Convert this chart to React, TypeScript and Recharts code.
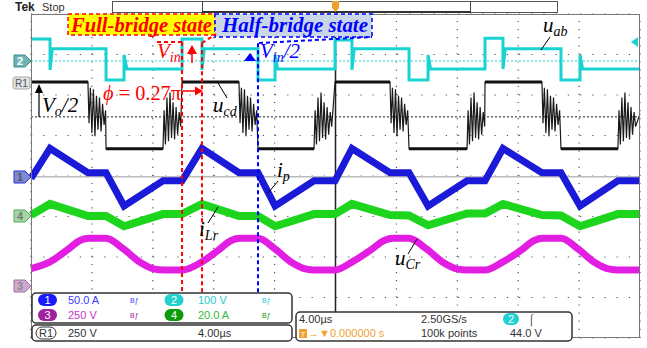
import { Line, LineChart, ReferenceLine, XAxis, YAxis } from "recharts";

type Pt = [number, number];
type Channel = { scale: number; offset: number };

const W = 647;
const H = 348;
const fontSans = "'Liberation Sans', Arial, sans-serif";
const fontSerif = "'Liberation Serif', 'Times New Roman', serif";

// horizontal: 4 us/div, 10 divs; vertical: 8 divs, 0 = screen centre
const timeTicks = [0, 4, 8, 12, 16, 20, 24, 28, 32, 36, 40];
const divTicks = [-4, -3, -2, -1, 0, 1, 2, 3, 4];

// channel scale (units/div) and ground marker position (div)
const ch1: Channel = { scale: 50, offset: -0.02 }; // i_p [A]
const ch2: Channel = { scale: 100, offset: 2.84 }; // u_ab [V]
const ch3: Channel = { scale: 250, offset: -2.72 }; // u_Cr [V]
const ch4: Channel = { scale: 20, offset: -0.99 }; // i_Lr [A]
const ref1: Channel = { scale: 250, offset: 1.46 }; // u_cd [V]

// [time us, value]
const ipTrace: Pt[] = [
  [0, -2], [1.25, 35], [3.74, 5], [4.93, 5], [6.11, -36], [8.67, -5], [9.92, -5],
  [11.23, 35], [13.66, 5], [14.91, 5], [16.03, -36], [18.59, -5], [19.97, -5],
  [21.08, 35], [23.58, 5], [24.83, 5], [26.08, -36], [28.64, -5], [29.82, -5],
  [31.0, 35], [33.56, 5], [34.81, 5], [36.06, -36], [38.55, -5], [40, -5],
];

const iLrTrace: Pt[] = [
  [0, 0.5], [1.25, 6], [3.74, 0], [4.93, 0], [6.11, -5], [8.67, 1], [9.92, 1],
  [11.23, 6], [13.66, 0], [14.91, 0], [16.03, -5], [18.59, 1], [19.97, 1],
  [21.08, 6], [23.58, 0.5], [24.83, 0.3], [26.08, -4.5], [28.64, 1.3], [29.82, 1.3],
  [31.0, 6], [33.56, 0.5], [34.81, 0.3], [36.06, -5], [38.55, 1], [40, 1],
];

const uCrTrace: Pt[] = [
  [0, 108], [1.25, 150], [2.36, 222], [3.22, 282], [3.81, 295], [4.93, 295], [6.04, 232], [7.16, 148], [8.14, 105], [8.67, 100],
  [9.92, 100], [11.23, 150], [12.3, 222], [13.15, 282], [13.73, 295], [14.91, 295], [16.0, 232], [17.1, 148], [18.1, 105], [18.6, 100],
  [19.97, 100], [21.1, 150], [22.3, 222], [23.2, 282], [23.8, 295], [24.83, 295], [25.95, 232], [27.05, 148], [28.05, 105], [28.6, 100],
  [29.82, 100], [31.0, 150], [32.2, 222], [33.05, 282], [33.65, 295], [34.81, 295], [35.9, 232], [37.0, 148], [38.0, 105], [38.55, 100], [40, 100],
];

const uabTrace: Pt[] = [
  [0, 54], [1.25, 54], [1.25, -22], [1.4, 30], [4.93, 30], [4.93, -47], [6.11, -47], [6.11, 15], [6.3, -20], [9.92, -20],
  [9.92, 54], [11.23, 54], [11.23, -22], [11.38, 30], [14.91, 30], [14.91, -47], [16.03, -47], [16.03, 15], [16.2, -20], [19.97, -20],
  [19.97, 52], [21.08, 52], [21.08, -22], [21.23, 30], [24.83, 30], [24.83, -47], [26.08, -47], [26.08, 15], [26.25, -20], [29.82, -20],
  [29.82, 56], [31.0, 56], [31.0, -20], [31.15, 30], [34.81, 30], [34.81, -47], [36.06, -47], [36.06, 15], [36.23, -20], [40, -20],
];

// u_cd: +/-Vo/2 levels with ringing after each edge
const ucdHigh = 216;
const ucdLow = -197;
const highStarts = [0, 9.92, 19.97, 29.82];
const fallStarts = [3.74, 13.66, 23.58, 33.56];
const lowStarts = [4.93, 14.91, 24.83, 34.81];
const riseStarts = [8.67, 18.59, 28.64, 38.55];
const ringFall: Pt[] = [
  [0, 216], [0.07, -40], [0.16, 180], [0.26, -100], [0.36, 170], [0.46, -120], [0.56, 130],
  [0.66, -80], [0.76, 120], [0.86, -90], [0.96, 80], [1.06, -50], [1.16, 40],
];
const ringRise: Pt[] = [
  [0, -197], [0.07, 40], [0.16, -170], [0.26, 120], [0.36, -150], [0.46, 150], [0.56, -130],
  [0.66, 90], [0.76, -140], [0.86, 60], [0.96, -110], [1.06, 30], [1.16, -60],
];

function buildUcd(): Pt[] {
  const out: Pt[] = [];
  highStarts.forEach((h, i) => {
    out.push([h, ucdHigh]);
    ringFall.forEach(([dt, v]) => out.push([fallStarts[i] + dt, v]));
    out.push([lowStarts[i], ucdLow]);
    ringRise.forEach(([dt, v]) => out.push([riseStarts[i] + dt, v]));
  });
  out.push([40, 20]);
  return out;
}

// the flat +/-Vo/2 parts carry a thicker noise band
function buildUcdLevels() {
  const out: { t: number; d: number | null }[] = [];
  highStarts.forEach((h, i) => {
    out.push({ t: h, d: ref1.offset + ucdHigh / ref1.scale });
    out.push({ t: fallStarts[i], d: ref1.offset + ucdHigh / ref1.scale });
    out.push({ t: fallStarts[i] + 0.01, d: null });
    out.push({ t: lowStarts[i], d: ref1.offset + ucdLow / ref1.scale });
    out.push({ t: riseStarts[i], d: ref1.offset + ucdLow / ref1.scale });
    out.push({ t: riseStarts[i] + 0.01, d: null });
  });
  return out;
}

const toDiv = (pts: Pt[], ch: Channel) => pts.map(([t, v]) => ({ t, d: ch.offset + v / ch.scale }));

// annotation instants
const fullBridgeEdge = 9.92;
const phaseEdge = 11.23;
const halfBridgeEdge = 14.91;

function Marker({ y, label, fill, stroke, text }: { y: number; label: string; fill: string; stroke: string; text: string }) {
  return (
    <g>
      <path d={`M14,${y - 6} H25 L31,${y} L25,${y + 6} H14 Z`} fill={fill} stroke={stroke} strokeLinejoin="round" />
      <text x={20} y={y + 4} textAnchor="middle" fontFamily={fontSans} fontWeight="bold" fontSize={11} fill={text}>
        {label}
      </text>
    </g>
  );
}

function Pill({ cx, cy, w, fill, label }: { cx: number; cy: number; w: number; fill: string; label: string }) {
  return (
    <g>
      <rect x={cx - w / 2} y={cy - 6} width={w} height={12} rx={6} fill={fill} />
      <text x={cx} y={cy + 4} textAnchor="middle" fontFamily={fontSans} fontSize={11} fill="#fff">
        {label}
      </text>
    </g>
  );
}

function Sym({ x, y, main, sub, tail, color }: { x: number; y: number; main: string; sub: string; tail?: string; color: string }) {
  return (
    <text x={x} y={y} fontFamily={fontSerif} fontStyle="italic" fontSize={21} fill={color}>
      {main}
      <tspan fontSize={14} dy={4}>{sub}</tspan>
      {tail && <tspan fontSize={21} dy={-4}>{tail}</tspan>}
    </text>
  );
}

function Overlay() {
  const txt = { fontFamily: fontSans, fontSize: 11 };
  return (
    <svg width={W} height={H} style={{ position: "absolute", left: 0, top: 0, pointerEvents: "none" }}>
      {/* status bar */}
      <text x={15} y={11} fontFamily={fontSans} fontWeight="bold" fontSize={12} fill="#222">Tek</text>
      <text x={42} y={11} fontFamily={fontSans} fontSize={11} fill="#333">Stop</text>
      <rect x={112.5} y={1.5} width={445} height={11} fill="none" stroke="#555" />
      <line x1={202.5} y1={1} x2={202.5} y2={13} stroke="#444" />
      <line x1={470.5} y1={1} x2={470.5} y2={13} stroke="#444" />
      <line x1={202} y1={12} x2={471} y2={12} stroke="#333" strokeWidth={2} />
      <path d="M332,1 H339 V8 L335.5,12 L332,8 Z" fill="#f0a030" />

      <rect x={31.5} y={14.5} width={608} height={323} fill="none" stroke="#777" />

      {/* channel markers */}
      <Marker y={61} label="2" fill="#6fb3b3" stroke="#3a8c8c" text="#fff" />
      <rect x={13} y={77} width={17} height={12} rx={2} fill="#e2e2e2" stroke="#aaa" />
      <text x={21.5} y={87} textAnchor="middle" fontFamily={fontSans} fontSize={10} fill="#555">R1</text>
      <Marker y={177} label="1" fill="#7e8ad8" stroke="#2233cc" text="#555" />
      <Marker y={216} label="4" fill="#a2d6a2" stroke="#55aa55" text="#777" />
      <Marker y={286} label="3" fill="#cfa8cf" stroke="#a070a0" text="#888" />
      <path d="M631,42 L638,37 L638,47 Z" fill="#19d3d3" />

      {/* state boxes */}
      <rect x={68} y={14} width={147} height={21} fill="#ffff00" stroke="#ff0000" strokeWidth={1.5} strokeDasharray="4 3" />
      <text x={71} y={32} fontFamily={fontSerif} fontWeight="bold" fontStyle="italic" fontSize={20} fill="#ff0000" textLength={141} lengthAdjust="spacingAndGlyphs">
        Full-bridge state
      </text>
      <rect x={215} y={14} width={157} height={23} fill="#c8d6e8" stroke="#0000ff" strokeWidth={1.5} strokeDasharray="4 3" />
      <text x={222} y={32} fontFamily={fontSerif} fontWeight="bold" fontStyle="italic" fontSize={20} fill="#0000ff" textLength={146} lengthAdjust="spacingAndGlyphs">
        Half-bridge state
      </text>
      <polyline points="157,42 182,42" fill="none" stroke="#ff0000" strokeWidth={2} strokeDasharray="4 3" />
      <polyline points="202,43 216,34" fill="none" stroke="#ff0000" strokeWidth={2} strokeDasharray="4 3" />
      <polyline points="259,43 372,37" fill="none" stroke="#0000ff" strokeWidth={2} strokeDasharray="4 3" />

      {/* arrows */}
      <line x1={192} y1={63} x2={192} y2={52} stroke="#ff0000" strokeWidth={1.5} />
      <path d="M187,54 L192,45 L197,54 Z" fill="#ff0000" />
      <path d="M244,61 L250,53 L256,61 Z" fill="#0000ff" />
      <line x1={183} y1={91} x2={196} y2={91} stroke="#ff0000" strokeWidth={1.5} />
      <path d="M195,86.5 L203,91 L195,95.5 Z" fill="#ff0000" />
      <line x1={39} y1={117} x2={39} y2={92} stroke="#000" strokeWidth={1.2} />
      <path d="M35,93 L39,84 L43,93 Z" fill="#000" />

      {/* labels */}
      <Sym x={157} y={58} main="V" sub="in" color="#ff0000" />
      <Sym x={260} y={58} main="V" sub="in" tail="/2" color="#0000ff" />
      <text x={103} y={100} fontFamily={fontSerif} fontSize={22} fill="#ff0000" textLength={78} lengthAdjust="spacingAndGlyphs">
        <tspan fontStyle="italic">ϕ</tspan> = 0.27π
      </text>
      <Sym x={42} y={112} main="V" sub="o" tail="/2" color="#000" />
      <Sym x={213} y={112} main="u" sub="cd" color="#000" />
      <line x1={218} y1={83} x2={227} y2={98} stroke="#000" />
      <Sym x={543} y={32} main="u" sub="ab" color="#000" />
      <line x1={550} y1={37} x2={541} y2={50} stroke="#000" />
      <Sym x={277} y={177} main="i" sub="p" color="#000" />
      <line x1={278} y1={181} x2={268} y2={193} stroke="#000" />
      <Sym x={199} y={236} main="i" sub="Lr" color="#000" />
      <line x1={218} y1={207} x2={208} y2={223} stroke="#000" />
      <Sym x={395} y={265} main="u" sub="Cr" color="#000" />
      <line x1={417} y1={239} x2={408} y2={254} stroke="#000" />

      {/* readout panel */}
      <rect x={32} y={293} width={260} height={30} rx={4} fill="#fff" stroke="#333" strokeWidth={1.5} />
      <Pill cx={47.5} cy={300} w={19} fill="#1a1aff" label="1" />
      <text x={68} y={304} {...txt} fill="#3a3aff">50.0 A</text>
      <text x={130} y={303} fontFamily={fontSans} fontSize={7} fill="#3a3aff">Bƒ</text>
      <Pill cx={174} cy={300} w={19} fill="#22d0d0" label="2" />
      <text x={198} y={304} {...txt} fill="#22cccc">100 V</text>
      <text x={262} y={303} fontFamily={fontSans} fontSize={7} fill="#22cccc">Bƒ</text>
      <Pill cx={47.5} cy={315} w={19} fill="#a020a0" label="3" />
      <text x={68} y={319} {...txt} fill="#cc33cc">250 V</text>
      <text x={130} y={318} fontFamily={fontSans} fontSize={7} fill="#a020a0">Bƒ</text>
      <Pill cx={174} cy={315} w={19} fill="#0a9a0a" label="4" />
      <text x={198} y={319} {...txt} fill="#33bb33">20.0 A</text>
      <text x={262} y={318} fontFamily={fontSans} fontSize={7} fill="#0a9a0a">Bƒ</text>
      <rect x={32} y={325} width={260} height={16} rx={4} fill="#fff" stroke="#333" strokeWidth={1.5} />
      <rect x={36} y={327} width={20} height={12} rx={6} fill="#fff" stroke="#333" />
      <text x={46} y={337} textAnchor="middle" {...txt} fill="#333">R1</text>
      <text x={68} y={337} {...txt} fill="#333">250 V</text>
      <text x={198} y={337} {...txt} fill="#333">4.00µs</text>

      <rect x={296} y={312} width={276} height={29} rx={4} fill="#fff" stroke="#333" strokeWidth={1.5} />
      <text x={299} y={323} {...txt} fill="#333">4.00µs</text>
      <text x={421} y={323} {...txt} fill="#333">2.50GS/s</text>
      <Pill cx={511} cy={319} w={16} fill="#22d0d0" label="2" />
      <text x={528} y={323} {...txt} fill="#333">⌠</text>
      <rect x={299} y={329} width={8} height={9} fill="#f0a030" />
      <text x={303} y={337} textAnchor="middle" fontFamily={fontSans} fontSize={8} fill="#fff">T</text>
      <text x={308} y={337} {...txt} fill="#f0a030">→▼0.000000 s</text>
      <text x={421} y={337} {...txt} fill="#333">100k points</text>
      <text x={510} y={337} {...txt} fill="#333">44.0 V</text>
    </svg>
  );
}

export default function App() {
  const ucd = toDiv(buildUcd(), ref1);
  return (
    <div style={{ position: "fixed", left: 0, top: 0, width: W, height: H, background: "#fff" }}>
      <div style={{ position: "absolute", left: 0, top: 0 }}>
        <LineChart width={W} height={H} margin={{ top: 14, right: 7, bottom: 10, left: 31 }}>
          <XAxis type="number" dataKey="t" domain={[0, 40]} ticks={timeTicks} hide />
          <YAxis type="number" dataKey="d" domain={[-4, 4]} ticks={divTicks} hide />
          {/* dotted graticule: dots every 1/5 division */}
          {divTicks.map((v) => (
            <ReferenceLine key={`gy${v}`} y={v} stroke="#555" strokeWidth={1.2} strokeDasharray="1.2 11" />
          ))}
          {timeTicks.map((v) => (
            <ReferenceLine key={`gx${v}`} x={v} stroke="#555" strokeWidth={1.2} strokeDasharray="1.2 6.9" />
          ))}
          <ReferenceLine y={ch2.offset} stroke="#19d3d3" strokeDasharray="2 2" />
          <ReferenceLine y={ref1.offset} stroke="#222" strokeDasharray="2 2" />
          <ReferenceLine y={ch1.offset} stroke="#bbb" strokeWidth={1.5} />
          <ReferenceLine x={20} stroke="#222" strokeWidth={1.5} />
          <Line data={toDiv(uabTrace, ch2)} dataKey="d" stroke="#19d3d3" strokeWidth={3} dot={false} isAnimationActive={false} />
          <Line data={ucd} dataKey="d" stroke="#1a1a1a" strokeWidth={1.2} dot={false} isAnimationActive={false} />
          <Line data={buildUcdLevels()} dataKey="d" stroke="#111" strokeWidth={3} dot={false} isAnimationActive={false} />
          <Line data={toDiv(ipTrace, ch1)} dataKey="d" stroke="#1a1ad8" strokeWidth={7} dot={false} isAnimationActive={false} />
          <Line data={toDiv(iLrTrace, ch4)} dataKey="d" stroke="#1ed51e" strokeWidth={8} dot={false} isAnimationActive={false} />
          <Line data={toDiv(uCrTrace, ch3)} type="monotone" dataKey="d" stroke="#e31ee3" strokeWidth={7} dot={false} isAnimationActive={false} />
          <ReferenceLine segment={[{ x: fullBridgeEdge, y: 3.31 }, { x: fullBridgeEdge, y: -2.89 }]} stroke="#ff0000" strokeWidth={2} strokeDasharray="4 3" />
          <ReferenceLine segment={[{ x: phaseEdge, y: 3.28 }, { x: phaseEdge, y: -2.89 }]} stroke="#ff0000" strokeWidth={2} strokeDasharray="4 3" />
          <ReferenceLine segment={[{ x: halfBridgeEdge, y: 3.28 }, { x: halfBridgeEdge, y: -2.89 }]} stroke="#0000ff" strokeWidth={2} strokeDasharray="4 3" />
        </LineChart>
      </div>
      <Overlay />
    </div>
  );
}
